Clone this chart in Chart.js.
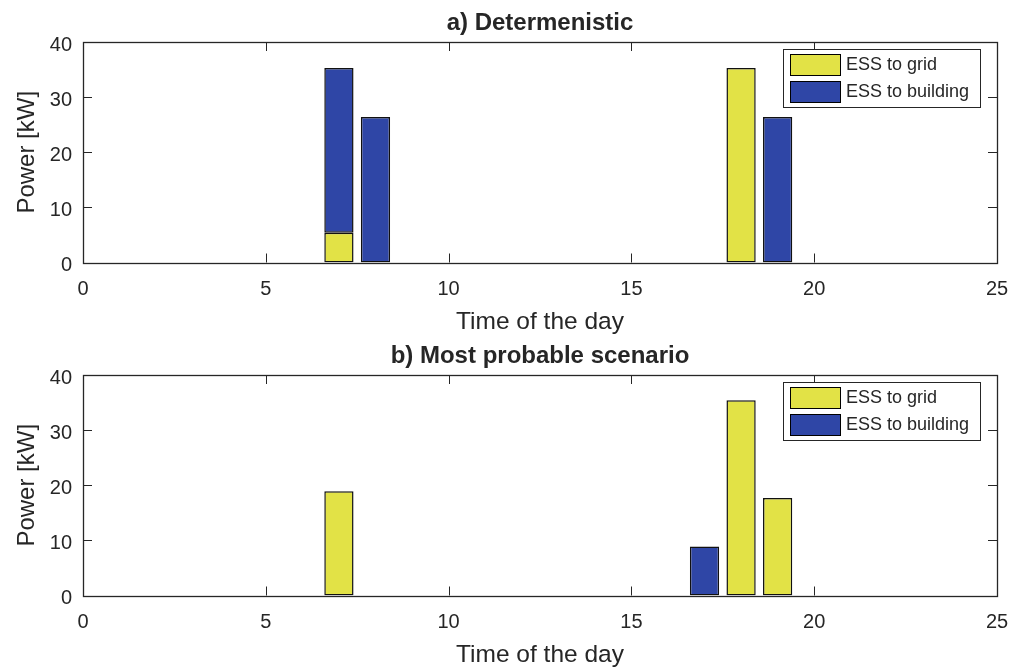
<!DOCTYPE html>
<html>
<head>
<meta charset="utf-8">
<script src="https://cdn.jsdelivr.net/npm/chart.js@4.4.1/dist/chart.umd.min.js"></script>
<style>
	body { margin: 0; background: #fff; }
	.panel { position: absolute; left: 0; width: 1011px; height: 338px; }
</style>
</head>
<body>
<div class="panel" style="top:0px"><canvas id="chartA" width="1011" height="338"></canvas></div>
<div class="panel" style="top:333px"><canvas id="chartB" width="1011" height="338"></canvas></div>
<script>
// a) Determenistic
const detGridHours = [7, 18];
const detGridKW = [5.4, 35.3];
const detBuildingHours = [7, 8, 19];
const detBuildingKW = [29.9, 26.4, 26.4];

// b) Most probable scenario
const mpsGridHours = [7, 18, 19];
const mpsGridKW = [18.9, 35.4, 17.7];
const mpsBuildingHours = [17];
const mpsBuildingKW = [8.9];

const seriesLabels = ["ESS to grid", "ESS to building"];
const seriesColors = ["#e2e246", "#2f46a6"];
const xTickValues = [0, 5, 10, 15, 20, 25];
const yTickValues = [0, 10, 20, 30, 40];

const FONT = "'Liberation Sans', Arial, Helvetica, sans-serif";
const INK = "#262626";

const toPoints = (hours, values) => hours.map((h, i) => ({ x: h, y: values[i] }));

// matlab style box, inward ticks and legend
const matlabAxes = {
	id: "matlabAxes",
	afterDraw(chart) {
		const ctx = chart.ctx;
		const { left, right, top, bottom } = chart.chartArea;
		const x = chart.scales.x;
		const y = chart.scales.y;
		const tl = 9;
		ctx.save();
		ctx.strokeStyle = INK;
		ctx.lineWidth = 1;
		ctx.beginPath();
		xTickValues.forEach((v) => {
			if (v === x.min || v === x.max) return;
			const px = Math.round(x.getPixelForValue(v)) + 0.5;
			ctx.moveTo(px, bottom);
			ctx.lineTo(px, bottom - tl);
			ctx.moveTo(px, top);
			ctx.lineTo(px, top + tl);
		});
		yTickValues.forEach((v) => {
			if (v === y.min || v === y.max) return;
			const py = Math.round(y.getPixelForValue(v)) + 0.5;
			ctx.moveTo(left, py);
			ctx.lineTo(left + tl, py);
			ctx.moveTo(right, py);
			ctx.lineTo(right - tl, py);
		});
		ctx.stroke();
		ctx.lineWidth = 1.3;
		ctx.strokeRect(Math.round(left) + 0.5, Math.round(top) + 0.5, Math.round(right - left), Math.round(bottom - top));

		// legend
		const bx = Math.round(right) - 214, by = Math.round(top) + 7, bw = 197, bh = 58;
		ctx.fillStyle = "#fff";
		ctx.fillRect(bx, by, bw, bh);
		ctx.lineWidth = 1;
		ctx.strokeRect(bx + 0.5, by + 0.5, bw, bh);
		ctx.font = "18px " + FONT;
		ctx.textBaseline = "middle";
		chart.data.datasets.forEach((ds, i) => {
			const sy = by + 5 + i * 27;
			ctx.fillStyle = ds.backgroundColor;
			ctx.fillRect(bx + 7, sy, 50, 21);
			ctx.strokeStyle = "#000";
			ctx.strokeRect(bx + 7.5, sy + 0.5, 50, 21);
			ctx.fillStyle = INK;
			ctx.fillText(ds.label, bx + 63, sy + 11.5);
		});
		ctx.restore();
	},
};

const drawPanel = (id, title, gridPts, buildingPts) => {
	const ctx = document.getElementById(id).getContext("2d");
	return new Chart(ctx, {
		type: "bar",
		data: {
			datasets: [
				{
					label: seriesLabels[0],
					data: gridPts,
					backgroundColor: seriesColors[0],
					borderColor: "#111",
					borderWidth: 1.5,
					borderSkipped: false,
				},
				{
					label: seriesLabels[1],
					data: buildingPts,
					backgroundColor: seriesColors[1],
					borderColor: "#111",
					borderWidth: 1.5,
					borderSkipped: false,
				},
			],
		},
		options: {
			responsive: false,
			animation: false,
			categoryPercentage: 1,
			barPercentage: 0.8,
			layout: { padding: { left: 0, right: 14, top: 0, bottom: 0 } },
			plugins: {
				legend: { display: false },
				tooltip: { enabled: false },
				title: {
					display: true,
					text: title,
					fullSize: false,
					color: INK,
					font: { family: FONT, size: 24, weight: "bold", lineHeight: 1.2 },
					padding: { top: 9, bottom: 4.2 },
				},
			},
			scales: {
				x: {
					type: "linear",
					stacked: true,
					min: 0,
					max: 25,
					offset: false,
					afterFit: (s) => {
						s.height = 75.5;
						s.paddingLeft = 0;
						s.paddingRight = 0;
					},
					afterBuildTicks: (s) => { s.ticks = xTickValues.map((v) => ({ value: v })); },
					grid: { display: false, drawTicks: false },
					border: { display: false },
					ticks: {
						color: INK,
						font: { family: FONT, size: 20 },
						padding: 15,
						maxRotation: 0,
						autoSkip: false,
					},
					title: {
						display: true,
						text: "Time of the day",
						color: INK,
						font: { family: FONT, size: 24.5, lineHeight: 1.2 },
						padding: { top: 0, bottom: 1 },
					},
				},
				y: {
					stacked: true,
					min: 0,
					max: 40,
					afterFit: (s) => {
						s.width = 83;
						s.paddingTop = 0;
						s.paddingBottom = 0;
					},
					afterBuildTicks: (s) => { s.ticks = yTickValues.map((v) => ({ value: v })); },
					grid: { display: false, drawTicks: false },
					border: { display: false },
					ticks: {
						color: INK,
						font: { family: FONT, size: 20 },
						padding: 11,
						labelOffset: 3,
					},
					title: {
						display: true,
						text: "Power [kW]",
						color: INK,
						font: { family: FONT, size: 24, lineHeight: 1.2 },
						padding: { top: 12.5, bottom: 0 },
					},
				},
			},
		},
		plugins: [matlabAxes],
	});
};

drawPanel("chartA", "a) Determenistic", toPoints(detGridHours, detGridKW), toPoints(detBuildingHours, detBuildingKW));
drawPanel("chartB", "b) Most probable scenario", toPoints(mpsGridHours, mpsGridKW), toPoints(mpsBuildingHours, mpsBuildingKW));
</script>
</body>
</html>
